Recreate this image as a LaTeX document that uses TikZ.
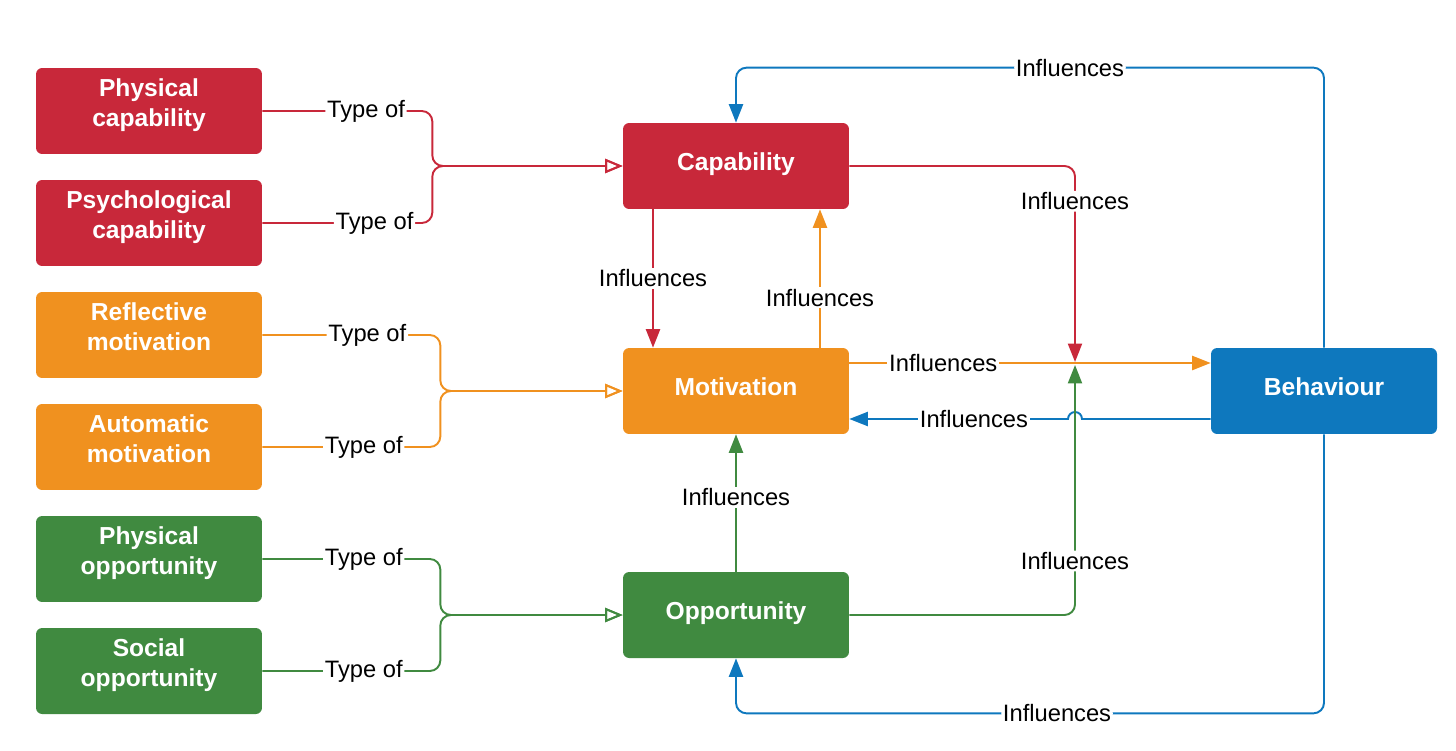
\documentclass[tikz,border=0pt]{standalone}
\usepackage{fontspec}
\setmainfont{Liberation Sans}
\usetikzlibrary{arrows.meta,calc}
\definecolor{cred}{HTML}{C8283A}
\definecolor{corange}{HTML}{F0911F}
\definecolor{cgreen}{HTML}{408A40}
\definecolor{cblue}{HTML}{0E78BE}
\begin{document}
\begin{tikzpicture}[x=0.02cm,y=-0.02cm,
 box/.style={rounded corners=3.5pt, minimum width=4.52cm, minimum height=1.72cm, inner sep=0pt, text=white, font=\fontsize{14}{17}\selectfont\bfseries, align=center, text depth=5pt},
 box2/.style={box, text depth=9.2pt},
 lbl/.style={fill=white, inner sep=1pt, font=\fontsize{13.5}{16}\selectfont, text=black},
 conn/.style={line width=1.1pt},
 typeof/.style={conn, rounded corners=6pt, -{Triangle[open,length=10pt,width=8pt]}},
 infl/.style={conn, -{Triangle[length=10.5pt,width=8pt]}},
]
\useasboundingbox (0,0) rectangle (1456,750);
% left nodes
\node[box2, fill=cred] (pcap) at (149,111) {Physical\\capability};
\node[box2, fill=cred] (scap) at (149,223) {Psychological\\capability};
\node[box2, fill=corange] (rmot) at (149,335) {Reflective\\motivation};
\node[box2, fill=corange] (amot) at (149,447) {Automatic\\motivation};
\node[box2, fill=cgreen] (popp) at (149,559) {Physical\\opportunity};
\node[box2, fill=cgreen] (sopp) at (149,671) {Social\\opportunity};
% central nodes
\node[box, fill=cred] (cap) at (736,166) {Capability};
\node[box, fill=corange] (mot) at (736,391) {Motivation};
\node[box, fill=cgreen] (opp) at (736,615) {Opportunity};
\node[box, fill=cblue] (beh) at (1324,391) {Behaviour};
\coordinate (jn) at (1075,363);
% type of
\draw[typeof, draw=cred] (pcap.east) -- node[lbl,pos=0.61]{Type of} ++(170,0) |- (cap.west);
\draw[typeof, draw=cred] (scap.east) -- node[lbl,pos=0.66]{Type of} ++(170,0) |- (cap.west);
\draw[typeof, draw=corange] (rmot.east) -- node[lbl,pos=0.59]{Type of} ++(178,0) |- (mot.west);
\draw[typeof, draw=corange] (amot.east) -- node[lbl,pos=0.57]{Type of} ++(178,0) |- (mot.west);
\draw[typeof, draw=cgreen] (popp.east) -- node[lbl,pos=0.57]{Type of} ++(178,0) |- (opp.west);
\draw[typeof, draw=cgreen] (sopp.east) -- node[lbl,pos=0.57]{Type of} ++(178,0) |- (opp.west);
% influences
\draw[infl, cred] ($(cap.south)+(-83,0)$) -- node[lbl]{Influences} ($(mot.north)+(-83,0)$);
\draw[infl, corange] ($(mot.north)+(84,0)$) -- node[lbl,pos=0.36]{Influences} ($(cap.south)+(84,0)$);
\draw[infl, cred, rounded corners=6pt] (cap.east) -| node[lbl,pos=0.59]{Influences} ($(jn)+(0,-1)$);
\draw[infl, corange] ($(mot.east)+(0,-28)$) -- node[lbl,pos=0.26]{Influences} ($(beh.west)+(0,-28)$);
\draw[infl, cblue] ($(beh.west)+(0,28)$) -- ($(jn)+(7,56)$) arc[start angle=0,end angle=180,radius=0.14cm] -- node[lbl,pos=0.43]{Influences} ($(mot.east)+(0,28)$);
\draw[infl, cgreen, rounded corners=6pt] (opp.east) -| node[lbl,pos=0.608]{Influences} ($(jn)+(0,2)$);
\draw[infl, cgreen] (opp.north) -- node[lbl,pos=0.54]{Influences} (mot.south);
\draw[infl, cblue, rounded corners=6pt] (beh.north) |- node[lbl,pos=0.716]{Influences} ($(cap.north)+(0,-55)$) -- (cap.north);
\draw[infl, cblue, rounded corners=6pt] (beh.south) |- node[lbl,pos=0.727]{Influences} ($(opp.south)+(0,55)$) -- (opp.south);
\end{tikzpicture}
\end{document}
